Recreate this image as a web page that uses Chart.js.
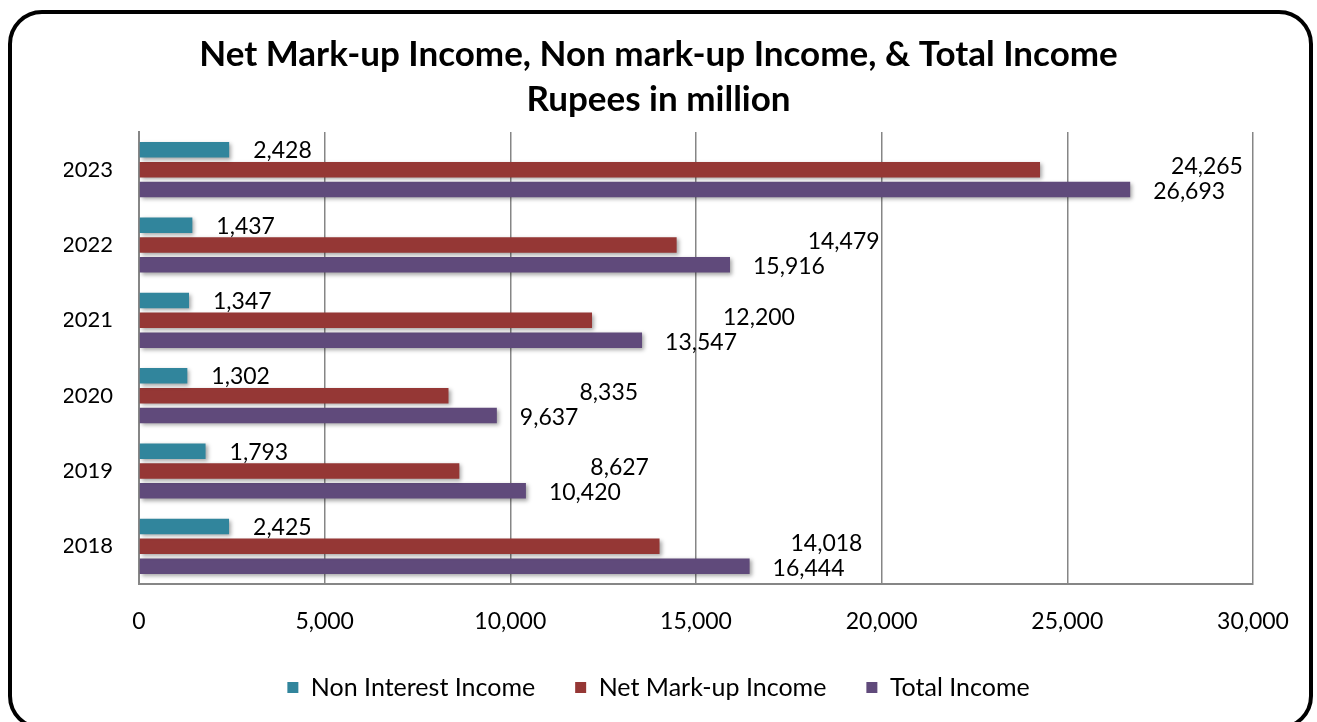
<!DOCTYPE html>
<html>
<head>
<meta charset="utf-8">
<script src="https://cdn.jsdelivr.net/npm/chart.js@4.4.0/dist/chart.umd.min.js"></script>
<style>
  html, body { margin: 0; padding: 0; background: #fff; overflow: hidden; }
  #frame {
    position: absolute; left: 8px; top: 10px; width: 1297px; height: 712px;
    border: 4px solid #000; border-radius: 34px;
  }
  #wrap { position: absolute; left: 0; top: 0; width: 1317px; height: 722px; }
</style>
</head>
<body>
<div id="frame"></div>
<div id="wrap"><canvas id="incomeChart" width="1317" height="722"></canvas></div>
<script>
const years = ['2023', '2022', '2021', '2020', '2019', '2018'];
const nonInterest = [2428, 1437, 1347, 1302, 1793, 2425];
const netMarkup = [24265, 14479, 12200, 8335, 8627, 14018];
const totalIncome = [26693, 15916, 13547, 9637, 10420, 16444];
const xTicks = [0, 5000, 10000, 15000, 20000, 25000, 30000];

const FONT = 'Lato, "Open Sans", sans-serif';

// label offsets per series (copied from how the labels sit in the original)
const labelShift = [
  { dx: 24, dy: 1 },
  { dx: 131, dy: -3 },
  { dx: 23, dy: 2 }
];

const barShadow = {
  id: 'barShadow',
  beforeDatasetDraw(chart) {
    const ctx = chart.ctx;
    ctx.save();
    ctx.shadowColor = 'rgba(0,0,0,0.35)';
    ctx.shadowBlur = 4;
    ctx.shadowOffsetX = 2;
    ctx.shadowOffsetY = 2;
  },
  afterDatasetDraw(chart) {
    chart.ctx.restore();
  }
};

const valueLabels = {
  id: 'valueLabels',
  afterDatasetsDraw(chart) {
    const ctx = chart.ctx;
    ctx.save();
    ctx.font = '23px ' + FONT;
    ctx.fillStyle = '#000';
    ctx.textAlign = 'left';
    ctx.textBaseline = 'middle';
    chart.data.datasets.forEach((ds, i) => {
      const meta = chart.getDatasetMeta(i);
      meta.data.forEach((bar, j) => {
        const txt = ds.data[j].toLocaleString('en-US');
        ctx.fillText(txt, bar.x + labelShift[i].dx, bar.y + labelShift[i].dy);
      });
    });
    ctx.restore();
  }
};

const chart = new Chart(document.getElementById('incomeChart'), {
  type: 'bar',
  data: {
    labels: years,
    datasets: [
      { label: 'Non Interest Income', data: nonInterest, backgroundColor: '#31859c' },
      { label: 'Net Mark-up Income', data: netMarkup, backgroundColor: '#953735' },
      { label: 'Total Income', data: totalIncome, backgroundColor: '#604a7b' }
    ]
  },
  options: {
    indexAxis: 'y',
    responsive: false,
    animation: false,
    devicePixelRatio: 1,
    categoryPercentage: 0.79,
    barPercentage: 0.78,
    borderWidth: 0,
    layout: { padding: { left: 64, right: 64, top: 14, bottom: 12 } },
    scales: {
      x: {
        min: 0,
        max: 30000,
        afterBuildTicks(scale) {
          scale.ticks = xTicks.map(v => ({ value: v }));
        },
        afterFit(scale) { scale.height = 51; },
        grid: { color: '#868686', lineWidth: 1.5, drawTicks: false },
        border: { display: true, color: '#868686', width: 2 },
        ticks: {
          color: '#000',
          padding: 24,
          font: { family: FONT, size: 23 },
          callback: v => v.toLocaleString('en-US')
        }
      },
      y: {
        afterFit(scale) { scale.width = 75; },
        grid: { display: false, drawTicks: false },
        border: { display: true, color: '#868686', width: 2 },
        ticks: {
          color: '#000',
          padding: 26,
          font: { family: FONT, size: 22 }
        }
      }
    },
    plugins: {
      title: {
        display: true,
        text: ['Net Mark-up Income, Non mark-up Income, & Total Income', 'Rupees in million'],
        color: '#000',
        font: { family: FONT, size: 35, weight: 'bold', lineHeight: '45px' },
        padding: { top: 18, bottom: 10 }
      },
      legend: {
        position: 'bottom',
        labels: {
          color: '#000',
          boxWidth: 11,
          boxHeight: 11,
          padding: 40,
          font: { family: FONT, size: 25 }
        }
      },
      tooltip: { enabled: false }
    }
  },
  plugins: [barShadow, valueLabels]
});
</script>
</body>
</html>
